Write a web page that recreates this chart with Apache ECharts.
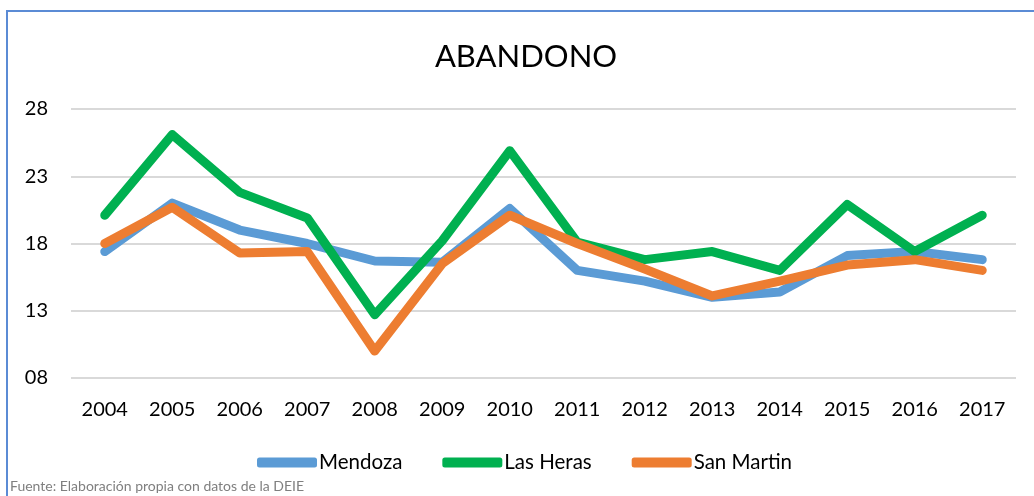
<!DOCTYPE html>
<html>
<head>
  <meta charset="utf-8">
  <title>ABANDONO</title>
  <script src="https://cdn.jsdelivr.net/npm/echarts@6/dist/echarts.min.js"></script>
  <style>
    html, body { margin: 0; padding: 0; background: #fff; }
    #wrap { position: relative; width: 1034px; height: 496px; overflow: hidden; }
    #frame { position: absolute; left: 6px; top: 10px; width: 1100px; height: 600px;
             border-top: 2px solid #5b8bd5; border-left: 2px solid #5b8bd5; }
    #chart1 { position: absolute; left: 0; top: 0; width: 1034px; height: 496px; }
  </style>
</head>
<body>
<div id="wrap">
  <div id="frame"></div>
  <div id="chart1"></div>
</div>
<script type="text/javascript">
  // datos
  const years = ['2004', '2005', '2006', '2007', '2008', '2009', '2010',
                 '2011', '2012', '2013', '2014', '2015', '2016', '2017'];
  const mendoza   = [17.4, 21.0, 19.0, 18.0, 16.7, 16.6, 20.6, 16.0, 15.2, 14.0, 14.4, 17.1, 17.4, 16.8];
  const lasHeras  = [20.1, 26.1, 21.8, 19.9, 12.7, 18.2, 24.9, 18.1, 16.8, 17.4, 16.0, 20.9, 17.4, 20.1];
  const sanMartin = [18.0, 20.7, 17.3, 17.4, 10.0, 16.5, 20.1, 18.0, 16.1, 14.1, 15.2, 16.4, 16.8, 16.0];

  const font = 'Lato, "Open Sans", sans-serif';
  let myChart1 = echarts.init(document.getElementById('chart1'));

  function serie(name, data, color) {
    return {
      name: name,
      type: 'line',
      data: data,
      symbol: 'none',
      color: color,
      lineStyle: { width: 9, color: color, cap: 'round', join: 'round' }
    };
  }

  myChart1.setOption({
    animation: false,
    textStyle: { fontFamily: font },
    title: {
      text: 'ABANDONO',
      left: 521,
      textAlign: 'center',
      top: 36,
      textStyle: { fontFamily: font, fontSize: 31, fontWeight: 'normal', color: '#000' }
    },
    legend: {
      bottom: 18,
      left: 252,
      icon: 'roundRect',
      itemWidth: 60,
      itemHeight: 10,
      itemGap: 40,
      textStyle: { fontFamily: font, fontSize: 20.5, color: '#000', padding: [0, 0, 0, -3] },
      data: ['Mendoza', 'Las Heras', 'San Martin']
    },
    grid: { left: 71, right: 18, top: 109, bottom: 118 },
    xAxis: {
      type: 'category',
      data: years,
      boundaryGap: true,
      axisLine: { show: false },
      axisTick: { show: false },
      axisLabel: { color: '#000', fontSize: 20, fontFamily: font, margin: 22 }
    },
    yAxis: {
      type: 'value',
      min: 8,
      max: 28,
      interval: 5,
      axisLine: { show: false },
      axisTick: { show: false },
      splitLine: { lineStyle: { color: '#d9d9d9', width: 2 } },
      axisLabel: {
        color: '#000', fontSize: 20, fontFamily: font, margin: 23,
        formatter: function (v) { return (v < 10 ? '0' : '') + v; }
      }
    },
    graphic: [{
      type: 'text',
      left: 10,
      top: 479,
      style: {
        text: 'Fuente: Elaboración propia con datos de la DEIE',
        fill: '#7f7f7f',
        font: '14px ' + font
      }
    }],
    series: [
      serie('Mendoza', mendoza, '#5b9bd5'),
      serie('Las Heras', lasHeras, '#00b050'),
      serie('San Martin', sanMartin, '#ed7d31')
    ]
  });
</script>
</body>
</html>
